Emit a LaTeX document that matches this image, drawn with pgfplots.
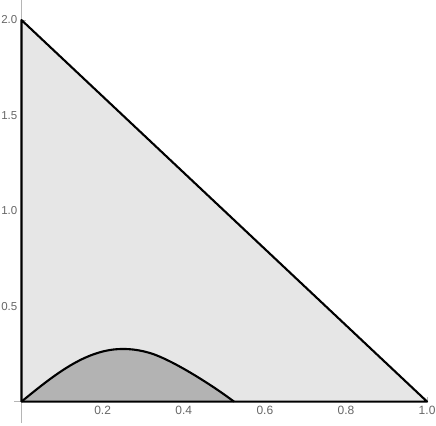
\documentclass[border=0pt]{standalone}
\usepackage{fontspec}
\setmainfont{Liberation Sans}
\usepackage{pgfplots}
\pgfplotsset{compat=1.18}
\definecolor{lightfill}{HTML}{E6E6E6}
\definecolor{darkfill}{HTML}{B3B3B3}
\definecolor{axisgray}{HTML}{B5B5B5}
\definecolor{labelgray}{HTML}{666666}
\pgfplotstableread{
x y
0 0
0.025 0.0432
0.05 0.0853
0.075 0.1253
0.1 0.1622
0.125 0.1952
0.15 0.2233
0.175 0.2459
0.2 0.2625
0.225 0.2726
0.25 0.276
0.275 0.2730
0.3 0.2640
0.325 0.2490
0.35 0.2270
0.375 0.2010
0.4 0.1720
0.425 0.1410
0.45 0.1080
0.475 0.0735
0.5 0.0370
0.524 0
}\curve
\begin{document}
\begin{tikzpicture}
\begin{axis}[
  x=405.5pt, y=190.75pt,
  axis lines=middle,
  axis line style={-, axisgray, line width=0.9pt},
  xmin=-0.018, xmax=1.0, ymin=-0.113, ymax=2.105,
  clip=false,
  xtick={0.2,0.4,0.6,0.8,1.0},
  ytick={0.5,1.0,1.5,2.0},
  minor xtick={0.05,0.1,...,0.95},
  minor ytick={0.1,0.2,...,1.9},
  tick style={axisgray, line width=0.7pt},
  major tick length=5pt, minor tick length=3pt,
  tick align=inside,
  xticklabel style={font=\fontsize{12}{13}\selectfont, text=labelgray, yshift=-0.5pt},
  yticklabel style={font=\fontsize{11.5}{12}\selectfont, text=labelgray, inner sep=0.5pt, xshift=-3.5pt},
  /pgf/number format/assume math mode=true,
  /pgf/number format/fixed, /pgf/number format/fixed zerofill,
  /pgf/number format/precision=1,
]
\addplot[fill=lightfill, draw=none] coordinates {(0,0) (0,2) (1,0)} -- cycle;
\addplot[fill=darkfill, draw=none, smooth] table {\curve} \closedcycle;
\addplot[black, line width=2.1pt, line join=round] coordinates {(0,0) (0,2) (1,0)} -- cycle;
\addplot[black, line width=2.1pt, smooth] table {\curve};
\coordinate (bl) at (axis cs:-0.053,-0.123);
\coordinate (tr) at (axis cs:1.022,2.105);
\end{axis}
\pgfresetboundingbox
\path[use as bounding box] (bl) rectangle (tr);
\end{tikzpicture}
\end{document}
